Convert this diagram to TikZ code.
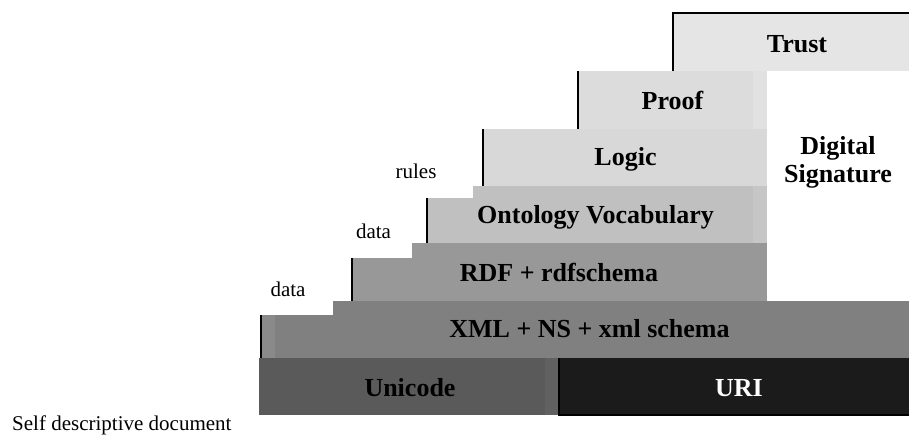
\documentclass[tikz,border=0pt]{standalone}
\usepackage{fontspec}
\setmainfont{Liberation Serif}
\definecolor{cTrust}{HTML}{E5E5E5}
\definecolor{cProof}{HTML}{DCDCDC}
\definecolor{cProofS}{HTML}{E1E1E1}
\definecolor{cLogic}{HTML}{D8D8D8}
\definecolor{cOnto}{HTML}{C0C0C0}
\definecolor{cOntoS}{HTML}{C6C6C6}
\definecolor{cRDF}{HTML}{989898}
\definecolor{cXML}{HTML}{808080}
\definecolor{cXMLS}{HTML}{8A8A8A}
\definecolor{cUni}{HTML}{5A5A5A}
\definecolor{cUniS}{HTML}{616161}
\definecolor{cURI}{HTML}{1B1B1B}
\tikzset{
  big/.style={font=\fontsize{26}{29}\selectfont\bfseries, anchor=base, inner sep=0pt},
  small/.style={font=\fontsize{21}{24}\selectfont, anchor=base, inner sep=0pt},
  edge/.style={line width=1.8pt, black},
}
\begin{document}
\begin{tikzpicture}[x=1pt,y=1pt]
\useasboundingbox (0,0) rectangle (909,434);
% y_tikz = 434 - y_px
% Trust
\fill[cTrust] (673,421) rectangle (909,362.5);
\draw[edge] (673,362.5) -- (673,421) -- (909,421);
% Proof
\fill[cProof] (578,362.5) rectangle (767,305);
\fill[cProofS] (753,362.5) rectangle (767,305);
\draw[edge] (578,362.5) -- (578,305);
% Logic
\fill[cLogic] (483,305) rectangle (767,248);
\draw[edge] (483,305) -- (483,248);
% Ontology
\fill[cOnto] (473,248) rectangle (767,236);
\fill[cOnto] (427,236) rectangle (767,191);
\fill[cOntoS] (753,248) rectangle (767,191);
\draw[edge] (427,236) -- (427,191);
% RDF
\fill[cRDF] (412,191) rectangle (767,176);
\fill[cRDF] (352,176) rectangle (767,133);
\draw[edge] (352,176) -- (352,133);
% XML
\fill[cXML] (333,133) rectangle (909,119);
\fill[cXML] (261,119) rectangle (909,76);
\fill[cXMLS] (262,119) rectangle (275,76);
\draw[edge] (261,119) -- (261,76);
% Unicode
\fill[cUni] (259,76) rectangle (559,19);
\fill[cUniS] (545,76) rectangle (559,19);
% URI
\fill[cURI] (559,76) rectangle (909,19);
\draw[edge] (559,76) -- (559,19) -- (909,19);
% labels
\node[big] (trust) at (797,381.5) {Trust};
\node[big] (proof) at (672.5,324) {Proof};
\node[big] (logic) at (625.5,268.5) {Logic};
\node[big] (dig) at (838,279.7) {Digital};
\node[big] (sig) at (838,251.3) {Signature};
\node[big] (onto) at (595.5,210.5) {Ontology Vocabulary};
\node[big] (rdf) at (559,152.3) {RDF + rdfschema};
\node[big] (xml) at (589.5,96.3) {XML + NS + xml schema};
\node[big] (uni) at (410,37.3) {Unicode};
\node[big, text=white] (uri) at (739,37.3) {URI};
\node[small] (rules) at (416,255.7) {rules};
\node[small] (data1) at (373.5,195.7) {data};
\node[small] (data2) at (288,138) {data};
\node[small, anchor=base west] (self) at (12,4) {Self descriptive document};
\end{tikzpicture}
\end{document}
